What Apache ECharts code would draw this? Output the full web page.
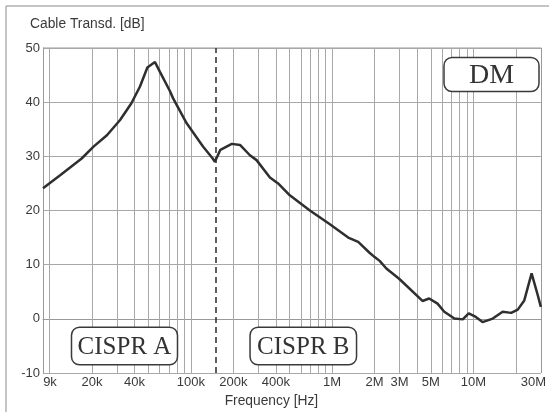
<!DOCTYPE html>
<html>
<head>
<meta charset="utf-8">
<script src="https://cdn.jsdelivr.net/npm/echarts@6/dist/echarts.min.js"></script>
<style>
  html, body { margin: 0; padding: 0; background: #fff; }
  #chart { width: 549px; height: 414px; }
</style>
</head>
<body>
<div id="chart"></div>
<script>
// Cable transducer factor (DM) vs. frequency
const freqHz = [
  9000, 11900, 16900, 20500, 25500, 31600, 38000, 43700, 49300, 55800,
  60500, 71000, 75000, 93500, 122000, 143000, 148000, 162000, 195000, 223000,
  262000, 292000, 363000, 415000, 502000, 696000, 948000, 1300000, 1530000, 1840000,
  2000000, 2170000, 2420000, 2980000, 4360000, 4860000, 5570000, 6220000, 7330000, 8400000,
  9260000, 10400000, 11600000, 13700000, 16100000, 18500000, 20600000, 22900000, 25800000, 28500000,
  30000000
];
const transdB = [
  24.1, 26.5, 29.6, 31.8, 33.9, 36.7, 39.8, 42.9, 46.4, 47.4,
  45.6, 42.1, 40.7, 36.1, 31.8, 29.6, 29.0, 31.2, 32.3, 32.1,
  30.2, 29.3, 26.1, 25.0, 22.8, 20.0, 17.6, 15.0, 14.2, 12.2,
  11.4, 10.7, 9.3, 7.4, 3.3, 3.75, 2.8, 1.3, 0.05, -0.1,
  1.0, 0.35, -0.6, 0.05, 1.3, 1.1, 1.7, 3.4, 8.4, 4.4,
  2.2
];

// Frequency axis labels
const xTickValues = [9000, 20000, 40000, 100000, 200000, 400000, 1000000, 2000000, 3000000, 5000000, 10000000, 30000000];
const xTickLabels = ['9k', '20k', '40k', '100k', '200k', '400k', '1M', '2M', '3M', '5M', '10M', '30M'];

// Vertical grid lines (1..9 per decade)
const xGridValues = [
  10000, 20000, 30000, 40000, 50000, 60000, 70000, 80000, 90000,
  100000, 200000, 300000, 400000, 500000, 600000, 700000, 800000, 900000,
  1000000, 2000000, 3000000, 4000000, 5000000, 6000000, 7000000, 8000000, 9000000,
  10000000, 20000000
];
// CISPR band boundary
const bandEdgeHz = 150000;

const yMin = -10, yMax = 50, yStep = 10;

const labelFor = {};
xTickValues.forEach((v, i) => { labelFor[v] = xTickLabels[i]; });

const curve = freqHz.map((f, i) => [f, transdB[i]]);

const chart = echarts.init(document.getElementById('chart'), null, { renderer: 'canvas' });

const textColor = '#3a3a3a';
const gridColor = '#a8a8a8';
const font = 'Liberation Sans, Arial, sans-serif';
const serif = 'Liberation Serif, Times New Roman, serif';

function box(cx, cy, w, h, text, size) {
  return {
    type: 'group',
    children: [
      {
        type: 'rect',
        shape: { x: cx - w / 2, y: cy - h / 2, width: w, height: h, r: 8 },
        style: { fill: '#fff', stroke: '#3a3a3a', lineWidth: 1.5 },
        z: 10
      },
      {
        type: 'text',
        style: {
          text: text, x: cx, y: cy + 1, align: 'center', verticalAlign: 'middle',
          font: size + 'px ' + serif, fill: '#333'
        },
        z: 11
      }
    ]
  };
}

// nearest labelled tick for a value on the log axis
function nearestTick(v) {
  let best = xTickValues[0];
  xTickValues.forEach(t => {
    if (Math.abs(Math.log10(t) - Math.log10(v)) < Math.abs(Math.log10(best) - Math.log10(v))) best = t;
  });
  return best;
}

chart.setOption({
  animation: false,
  backgroundColor: '#fff',
  title: {
    text: 'Cable Transd. [dB]',
    left: 30, top: 17, padding: 0,
    textStyle: { fontSize: 13.8, fontWeight: 'normal', color: textColor, fontFamily: font }
  },
  grid: { left: 43, right: 7.5, top: 48, bottom: 41, show: false },
  xAxis: {
    type: 'log',
    logBase: 10,
    min: 9000,
    max: 30000000,
    name: 'Frequency [Hz]',
    nameLocation: 'middle',
    nameGap: 13,
    nameTextStyle: { fontSize: 13.8, color: textColor, fontFamily: font, padding: [0, 41, 0, 0] },
    axisLine: { show: true, lineStyle: { color: '#999', width: 1 } },
    axisTick: { show: false },
    splitLine: { show: false },
    axisLabel: {
      customValues: xTickValues,
      margin: 3,
      fontSize: 13,
      color: textColor,
      fontFamily: font,
      formatter: function (v) {
        const best = nearestTick(v);
        const s = labelFor[best];
        if (best === 9000) return '{l|' + s + '}';
        if (best === 30000000) return '{r|' + s + '}';
        return s;
      },
      rich: {
        l: { fontSize: 13, color: textColor, fontFamily: font, padding: [0, 0, 0, 14] },
        r: { fontSize: 13, color: textColor, fontFamily: font, padding: [0, 15, 0, 0] }
      }
    }
  },
  yAxis: {
    type: 'value',
    min: yMin,
    max: yMax,
    interval: yStep,
    axisLine: { show: true, lineStyle: { color: '#999', width: 1 } },
    axisTick: { show: false },
    axisLabel: { margin: 3, fontSize: 13, color: textColor, fontFamily: font },
    splitLine: { show: true, lineStyle: { color: gridColor, width: 1 } }
  },
  series: [
    {
      // grid lines and band boundary
      type: 'line',
      data: [],
      z: 1,
      silent: true,
      markLine: {
        silent: true,
        symbol: 'none',
        animation: false,
        label: { show: false },
        lineStyle: { color: gridColor, width: 1, type: 'solid' },
        data: xGridValues.map(v => ({ xAxis: v })).concat([
          { xAxis: 30000000, lineStyle: { color: '#999', width: 1, type: 'solid' } },
          { xAxis: bandEdgeHz, lineStyle: { color: '#2a2a2a', width: 1.5, type: [6, 4] } }
        ])
      }
    },
    {
      type: 'line',
      data: curve,
      z: 5,
      symbol: 'none',
      smooth: false,
      lineStyle: { color: '#2f2f2f', width: 2.5 },
      silent: true
    }
  ],
  graphic: [
    { type: 'line', shape: { x1: 6, y1: 6, x2: 560, y2: 6 }, style: { stroke: '#b0b0b0', lineWidth: 1.5 }, z: 0 },
    { type: 'line', shape: { x1: 6, y1: 6, x2: 6, y2: 412 }, style: { stroke: '#b0b0b0', lineWidth: 1.5 }, z: 0 },
    { type: 'line', shape: { x1: 43, y1: 48, x2: 541.5, y2: 48 }, style: { stroke: '#999', lineWidth: 1 }, z: 0, silent: true },
    box(124.5, 346, 106, 37.5, 'CISPR A', 25),
    box(303.3, 346, 106.5, 37.5, 'CISPR B', 25),
    box(491.5, 74.5, 95, 34, 'DM', 28)
  ]
});
</script>
</body>
</html>
